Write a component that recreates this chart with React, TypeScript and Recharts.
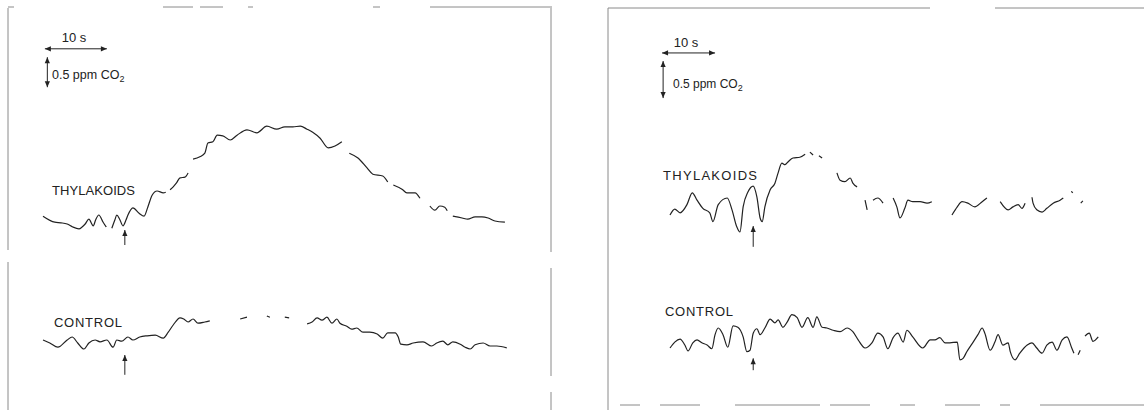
import React from 'react';
import { LineChart, Line, XAxis, YAxis, ReferenceLine } from 'recharts';

// readings in [seconds, ppm CO2 relative to trace start]; null = gap in the trace
const thylakoidsA: [number, number | null][] = [
    [0, 0.03], [1.9, -0.07], [2.9, -0.08], [3.9, -0.1], [4.8, -0.15], [5.8, -0.18], [6.3, -0.15], [6.8, -0.1],
    [7.4, -0.02], [8.1, -0.13], [8.5, -0.03], [9.0, 0.05], [9.7, -0.07], [10.2, -0.15], [10.6, null], [11.1, -0.17],
    [11.6, -0.03], [11.9, 0.05], [12.4, -0.03], [12.9, -0.13], [13.4, -0.03], [13.7, 0.05], [14.5, 0.17], [15.5, 0.08],
    [16.3, 0.03], [16.9, 0.18], [17.6, 0.38], [18.4, 0.45], [19.4, 0.42], [19.8, 0.43], [20.1, null], [20.5, 0.47],
    [21.0, 0.52], [21.5, 0.58], [22.1, 0.67], [22.9, 0.68], [23.4, 0.75], [23.8, null], [24.2, 0.98], [25.3, 1.02],
    [26.1, 1.08], [26.6, 1.25], [27.4, 1.27], [28.1, 1.38], [29.0, 1.37], [30.2, 1.3], [31.3, 1.38], [32.9, 1.47],
    [34.5, 1.42], [36.1, 1.53], [37.7, 1.48], [39.0, 1.52], [40.3, 1.52], [41.5, 1.53], [42.6, 1.48], [43.5, 1.43],
    [44.7, 1.33], [46.0, 1.17], [47.1, 1.2], [48.2, 1.27], [48.8, null], [49.4, 1.08], [50.8, 1.0], [52.3, 0.83],
    [53.2, 0.73], [54.8, 0.7], [55.6, 0.6], [56.0, null], [56.5, 0.55], [57.9, 0.48], [58.7, 0.42], [60.0, 0.42],
    [60.8, 0.33], [61.6, null], [62.4, 0.2], [63.2, 0.13], [64.0, 0.2], [64.8, 0.18], [65.2, 0.12], [65.6, null],
    [66.1, 0.03], [67.6, 0], [68.5, -0.02], [69.7, 0.02], [70.8, 0.02], [71.8, 0], [72.9, -0.05], [74.5, -0.07],
];

const controlA: [number, number | null][] = [
    [0, 0], [1.1, -0.05], [2.4, -0.12], [3.9, 0], [4.7, 0.05], [5.6, -0.05], [6.6, -0.15], [7.4, -0.05],
    [8.4, 0], [9.2, -0.03], [10.3, 0], [11.3, -0.12], [11.9, 0], [12.7, -0.02], [13.7, 0.05], [14.5, 0],
    [15.6, 0.05], [16.8, 0.07], [18.1, 0.08], [19.4, 0.03], [20.2, 0.13], [21.0, 0.25], [22.1, 0.37], [22.7, 0.35],
    [23.4, 0.3], [24.2, 0.35], [25.0, 0.28], [26.1, 0.3], [26.9, 0.32], [29, null], [31.8, 0.35], [32.9, 0.38],
    [34.5, null], [36.1, 0.4], [36.6, 0.38], [37.8, null], [39.0, 0.38], [39.7, 0.37], [41, null], [42.6, 0.27],
    [43.4, 0.3], [44.2, 0.37], [45.0, 0.33], [45.8, 0.38], [46.6, 0.28], [47.4, 0.35], [47.9, 0.28], [49.0, 0.23],
    [49.8, 0.18], [50.6, 0.2], [51.6, 0.13], [52.7, 0.13], [53.9, 0.1], [54.8, 0.03], [55.6, 0.12], [56.8, 0.12],
    [57.3, 0.05], [57.7, -0.07], [58.7, -0.08], [59.7, -0.05], [61.3, -0.03], [62.7, -0.1], [63.5, -0.05], [64.5, -0.02],
    [65.3, -0.08], [66.1, -0.03], [67.3, -0.07], [68.1, -0.12], [68.9, -0.15], [69.7, -0.08], [71.0, -0.05], [72.1, -0.1],
    [73.2, -0.1], [74.8, -0.13],
];

const thylakoidsB: [number, number | null][] = [
    [0, 0], [0.9, 0.08], [1.9, 0.03], [3.2, 0.14], [4.2, 0.3], [5.1, 0.2], [6.2, 0.09], [7.5, 0.03],
    [8.1, -0.09], [9.1, 0.14], [10.8, 0.23], [11.7, 0.07], [12.6, -0.16], [13.2, -0.23], [13.8, 0.11], [14.7, 0.31],
    [15.7, 0.39], [16.4, 0.24], [17.0, -0.04], [17.4, -0.09], [17.9, 0.11], [18.9, 0.34], [19.8, 0.43], [20.4, 0.57],
    [21.1, 0.7], [21.7, 0.68], [22.3, 0.72], [23.2, 0.77], [24.5, 0.78], [25.5, 0.82], [26, null], [26.4, 0.85],
    [27.0, 0.81], [27.5, null], [28.1, 0.8], [28.7, 0.77], [30, null], [31.5, 0.57], [32.1, 0.47], [33.0, 0.45],
    [34.0, 0.5], [34.5, 0.43], [35.3, 0.38], [36, null], [36.8, 0.2], [37.2, 0.07], [37.7, null], [38.3, 0.2],
    [39.2, 0.23], [40.2, 0.16], [41, null], [42.1, 0.23], [42.8, 0.11], [43.4, -0.04], [44.3, 0.09], [44.9, 0.2],
    [45.8, 0.18], [47.2, 0.18], [48.5, 0.16], [49.4, 0.18], [51, null], [53.2, 0], [54.2, 0.11], [55.1, 0.18],
    [56.2, 0.16], [57.5, 0.11], [58.9, 0.18], [59.8, 0.23], [61, null], [62.3, 0.18], [63.8, 0.07], [64.7, 0.11],
    [65.7, 0.14], [66.4, 0.09], [67.0, 0.16], [67.6, null], [68.3, 0.24], [68.5, 0.16], [69.2, 0.07], [70.2, 0.04],
    [71.1, 0.09], [72.3, 0.16], [73.6, 0.2], [74.2, 0.23], [75, null], [75.7, 0.32], [76.0, 0.3], [76.7, null],
    [77.5, 0.16], [77.9, 0.19],
];

const controlB: [number, number | null][] = [
    [0, 0], [0.9, 0.08], [1.9, 0.12], [2.8, 0.04], [3.4, -0.04], [4.3, 0.07], [5.1, 0.11], [6.0, 0.07],
    [7.0, 0.04], [7.9, -0.01], [8.5, 0.18], [9.1, 0.27], [10.0, 0.18], [10.9, 0.01], [11.9, 0.3], [12.8, 0.28],
    [13.8, 0.15], [14.5, -0.05], [15.1, -0.03], [15.7, 0.2], [16.4, 0.26], [17.0, 0.18], [17.9, 0.27], [18.9, 0.39],
    [19.8, 0.34], [20.4, 0.38], [21.3, 0.28], [22.1, 0.35], [23.0, 0.45], [24.0, 0.41], [24.9, 0.28], [26.0, 0.41],
    [27.0, 0.28], [27.7, 0.42], [28.7, 0.28], [29.6, 0.27], [30.8, 0.24], [32.1, 0.22], [33.4, 0.27], [34.5, 0.22],
    [35.5, 0.11], [36.8, 0], [38.1, 0.07], [39.2, 0.2], [40.2, 0.15], [41.1, -0.01], [42.1, 0.14], [43.0, 0.2],
    [44.0, 0.08], [44.7, 0.24], [45.8, 0.15], [47.7, 0], [49.1, 0.11], [50.0, 0.11], [50.9, 0.14], [51.9, 0.07],
    [52.8, 0.07], [54.2, 0.08], [54.7, -0.16], [55.3, -0.14], [56.0, -0.05], [57.2, 0.08], [58.1, 0.18], [58.9, 0.27],
    [59.4, 0.2], [60.4, -0.03], [61.3, 0.08], [61.9, 0.18], [62.8, 0.04], [63.8, 0.07], [64.2, -0.05], [65.1, -0.16],
    [66.0, -0.07], [67.4, 0.04], [68.3, 0.07], [69.2, 0], [70.2, -0.07], [71.1, 0.04], [72.1, 0.08], [73.0, -0.03],
    [74.0, 0.11], [74.9, 0.15], [75.8, 0], [76.2, -0.07], [76.6, null], [77.0, -0.09], [77.4, -0.03], [77.8, null],
    [78.3, 0.16], [79.1, 0.2], [79.8, 0.09], [80.8, 0.15],
];

// time of addition (arrows), s
const injectionA = 13.2;
const injectionB = 15.7;

const INK = '#222';
const FONT = '"Liberation Sans", Arial, Helvetica, sans-serif';

const toRows = (pairs: [number, number | null][]) => pairs.map(([t, v]) => ({ t, v }));

const arrowShape = (both: boolean) => (p: any) => {
    const { x1, y1, x2, y2 } = p;
    const head = (ax: number, ay: number, bx: number, by: number) => {
        const a = Math.atan2(by - ay, bx - ax);
        const l = 6, w = 2.6;
        const px = bx - l * Math.cos(a), py = by - l * Math.sin(a);
        const nx = -Math.sin(a) * w, ny = Math.cos(a) * w;
        return <polygon points={`${bx},${by} ${px + nx},${py + ny} ${px - nx},${py - ny}`} fill={INK} />;
    };
    return (
        <g>
            <line x1={x1} y1={y1} x2={x2} y2={y2} stroke={INK} strokeWidth={1} />
            {head(x1, y1, x2, y2)}
            {both && head(x2, y2, x1, y1)}
        </g>
    );
};

type PanelProps = {
    width: number;
    height: number;
    t0px: number; // pixel of t = 0
    pxPerSec: number;
    pxPerPpm: number;
    thyBase: number; // pixel row of thylakoid trace start
    ctlBase: number;
    thy: [number, number | null][];
    ctl: [number, number | null][];
    injection: number;
    arrows: { thy: [number, number]; ctl: [number, number] };
    bars: { y: number; t1: number; t2: number; vx: number; v1: number; v2: number };
};

const Panel = ({ width, height, t0px, pxPerSec, pxPerPpm, thyBase, ctlBase, thy, ctl, injection, arrows, bars }: PanelProps) => {
    const xDomain = [-t0px / pxPerSec, (width - t0px) / pxPerSec];
    const thyDomain = [-(height - thyBase) / pxPerPpm, thyBase / pxPerPpm];
    const ctlDomain = [-(height - ctlBase) / pxPerPpm, ctlBase / pxPerPpm];
    return (
        <LineChart width={width} height={height} margin={{ top: 0, right: 0, bottom: 0, left: 0 }}>
            <XAxis hide type="number" dataKey="t" domain={xDomain} allowDataOverflow />
            <YAxis hide yAxisId="thy" type="number" domain={thyDomain} allowDataOverflow />
            <YAxis hide yAxisId="ctl" type="number" domain={ctlDomain} allowDataOverflow />
            <Line yAxisId="thy" data={toRows(thy)} dataKey="v" type="monotone" stroke={INK} strokeWidth={1.2}
                dot={false} activeDot={false} isAnimationActive={false} />
            <Line yAxisId="ctl" data={toRows(ctl)} dataKey="v" type="monotone" stroke={INK} strokeWidth={1.2}
                dot={false} activeDot={false} isAnimationActive={false} />
            <ReferenceLine yAxisId="thy" segment={[{ x: injection, y: arrows.thy[1] }, { x: injection, y: arrows.thy[0] }]}
                shape={arrowShape(false)} />
            <ReferenceLine yAxisId="ctl" segment={[{ x: injection, y: arrows.ctl[1] }, { x: injection, y: arrows.ctl[0] }]}
                shape={arrowShape(false)} />
            {/* scale bars: 10 s and 0.5 ppm CO2 */}
            <ReferenceLine yAxisId="thy" segment={[{ x: bars.t1, y: bars.y }, { x: bars.t2, y: bars.y }]}
                shape={arrowShape(true)} />
            <ReferenceLine yAxisId="thy" segment={[{ x: bars.vx, y: bars.v1 }, { x: bars.vx, y: bars.v2 }]}
                shape={arrowShape(true)} />
        </LineChart>
    );
};

const txt = { fontFamily: FONT, fill: INK } as const;

export default function App() {
    return (
        <div style={{ position: 'absolute', left: 0, top: 0, width: 1144, height: 410, background: '#fff', overflow: 'hidden' }}>
            <div style={{ position: 'absolute', left: 0, top: 0 }}>
                <Panel width={560} height={410} t0px={43} pxPerSec={6.2} pxPerPpm={60} thyBase={218} ctlBase={340}
                    thy={thylakoidsA} ctl={controlA} injection={injectionA}
                    arrows={{ thy: [-0.2, -0.45], ctl: [-0.25, -0.58] }}
                    bars={{ y: 2.82, t1: 0.3, t2: 10.3, vx: 0.7, v1: 2.68, v2: 2.18 }} />
            </div>
            <div style={{ position: 'absolute', left: 580, top: 0 }}>
                <Panel width={564} height={410} t0px={90} pxPerSec={5.3} pxPerPpm={74} thyBase={215} ctlBase={348}
                    thy={thylakoidsB} ctl={controlB} injection={injectionB}
                    arrows={{ thy: [-0.15, -0.43], ctl: [-0.14, -0.3] }}
                    bars={{ y: 2.19, t1: -1.5, t2: 8.5, vx: -1.3, v1: 2.08, v2: 1.58 }} />
            </div>
            <svg width={1144} height={410} style={{ position: 'absolute', left: 0, top: 0, pointerEvents: 'none' }}>
                {/* frames of the scanned panels */}
                <g stroke="#8a8a8a" strokeWidth={1} fill="none">
                    <path d="M8,8 V250 M8,262 V410" />
                    <path d="M8,7 H14 M163,7 H193 M200,7 H223 M248,7 H253 M373,7 H380 M430,7 H552" />
                    <path d="M551,8 V252 M551,268 V376 M551,392 V410" />
                    <path d="M608,8 V410" />
                    <path d="M608,8 H930 M995,8 H1144" />
                    <path d="M620,405 H640 M660,405 H700 M735,405 H820 M830,405 H870 M900,405 H915 M945,405 H980 M1000,405 H1010 M1040,405 H1144" />
                </g>
                <text x={74} y={42} textAnchor="middle" fontSize={13} {...txt}>10 s</text>
                <text x={52} y={79} fontSize={12.5} {...txt}>0.5 ppm CO<tspan fontSize={9} dy={3}>2</tspan></text>
                <text x={52} y={195} fontSize={13} textLength={83} {...txt}>THYLAKOIDS</text>
                <text x={54} y={327} fontSize={13} textLength={68} {...txt}>CONTROL</text>

                <text x={686} y={47} textAnchor="middle" fontSize={13} {...txt}>10 s</text>
                <text x={673} y={88} fontSize={12} {...txt}>0.5 ppm CO<tspan fontSize={9} dy={3}>2</tspan></text>
                <text x={663} y={180} fontSize={13} textLength={94} {...txt}>THYLAKOIDS</text>
                <text x={665} y={316} fontSize={13} textLength={68} {...txt}>CONTROL</text>
            </svg>
        </div>
    );
}
